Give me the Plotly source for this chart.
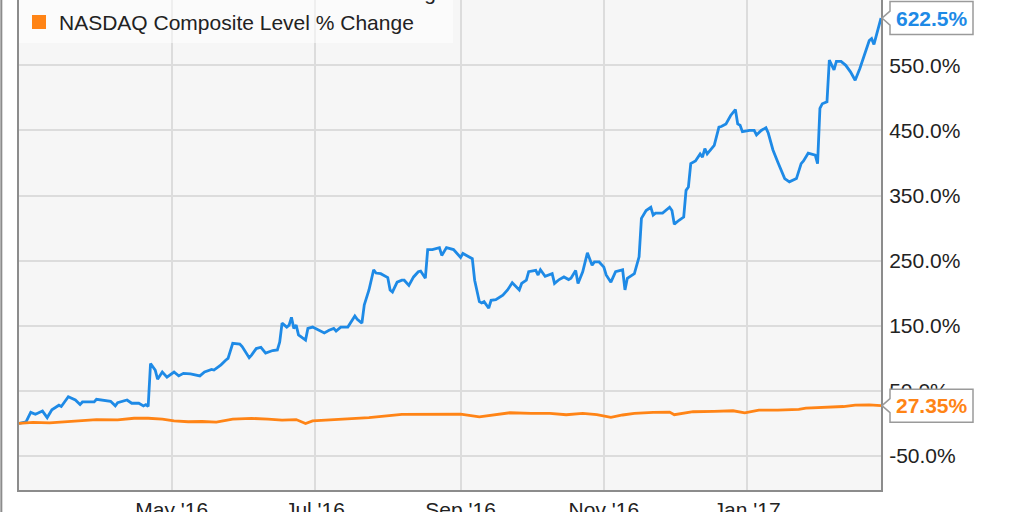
import plotly.graph_objects as go

# ---------------- data ----------------
amd_name = "Advanced Micro Devices Price % Change"
nasdaq_name = "NASDAQ Composite Level % Change"

amd_dates = [
    "2016-02-26", "2016-02-29", "2016-03-02", "2016-03-04", "2016-03-07", "2016-03-09",
    "2016-03-11", "2016-03-14", "2016-03-15", "2016-03-18", "2016-03-21", "2016-03-23",
    "2016-03-24", "2016-03-29", "2016-03-30", "2016-04-01", "2016-04-05", "2016-04-07",
    "2016-04-08", "2016-04-12", "2016-04-14", "2016-04-17", "2016-04-19", "2016-04-20",
    "2016-04-21", "2016-04-22", "2016-04-24", "2016-04-25", "2016-04-27", "2016-04-29",
    "2016-05-02", "2016-05-04", "2016-05-06", "2016-05-09", "2016-05-12", "2016-05-13",
    "2016-05-15", "2016-05-18", "2016-05-19", "2016-05-22", "2016-05-24", "2016-05-25",
    "2016-05-27", "2016-05-30", "2016-05-31", "2016-06-03", "2016-06-04", "2016-06-06",
    "2016-06-08", "2016-06-09", "2016-06-10", "2016-06-13", "2016-06-15", "2016-06-16",
    "2016-06-17", "2016-06-19", "2016-06-20", "2016-06-21", "2016-06-22", "2016-06-23",
    "2016-06-24", "2016-06-27", "2016-06-28", "2016-06-30", "2016-07-02", "2016-07-05",
    "2016-07-07", "2016-07-09", "2016-07-10", "2016-07-12", "2016-07-15", "2016-07-16",
    "2016-07-18", "2016-07-19", "2016-07-21", "2016-07-22", "2016-07-24", "2016-07-26",
    "2016-07-27", "2016-07-29", "2016-08-01", "2016-08-02", "2016-08-03", "2016-08-05",
    "2016-08-07", "2016-08-08", "2016-08-10", "2016-08-12", "2016-08-14", "2016-08-15",
    "2016-08-17", "2016-08-18", "2016-08-20", "2016-08-23", "2016-08-24", "2016-08-26",
    "2016-08-29", "2016-09-01", "2016-09-02", "2016-09-06", "2016-09-07", "2016-09-09",
    "2016-09-10", "2016-09-11", "2016-09-13", "2016-09-14", "2016-09-16", "2016-09-19",
    "2016-09-21", "2016-09-23", "2016-09-26", "2016-09-27", "2016-09-29", "2016-09-30",
    "2016-10-03", "2016-10-04", "2016-10-05", "2016-10-07", "2016-10-10", "2016-10-11",
    "2016-10-13", "2016-10-15", "2016-10-17", "2016-10-18", "2016-10-20", "2016-10-21",
    "2016-10-23", "2016-10-25", "2016-10-27", "2016-10-28", "2016-10-30", "2016-11-01",
    "2016-11-02", "2016-11-04", "2016-11-06", "2016-11-09", "2016-11-10", "2016-11-11",
    "2016-11-14", "2016-11-16", "2016-11-17", "2016-11-19", "2016-11-21", "2016-11-22",
    "2016-11-23", "2016-11-26", "2016-11-29", "2016-11-30", "2016-12-01", "2016-12-03",
    "2016-12-05", "2016-12-06", "2016-12-07", "2016-12-08", "2016-12-10", "2016-12-12",
    "2016-12-13", "2016-12-14", "2016-12-15", "2016-12-18", "2016-12-20", "2016-12-21",
    "2016-12-23", "2016-12-25", "2016-12-27", "2016-12-28", "2016-12-29", "2016-12-30",
    "2017-01-02", "2017-01-04", "2017-01-05", "2017-01-07", "2017-01-09", "2017-01-10",
    "2017-01-12", "2017-01-14", "2017-01-17", "2017-01-19", "2017-01-22", "2017-01-24",
    "2017-01-25", "2017-01-27", "2017-01-30", "2017-01-31", "2017-02-01", "2017-02-02",
    "2017-02-04", "2017-02-05", "2017-02-07", "2017-02-08", "2017-02-10", "2017-02-12",
    "2017-02-14", "2017-02-16", "2017-02-18", "2017-02-22", "2017-02-23", "2017-02-24",
    "2017-02-27",
]
amd_pct = [
    0, 2.6, 17, 14, 19, 9,
    21, 28, 26, 41, 36, 29,
    33, 33, 37, 36, 34, 27,
    32, 36, 31, 31, 27, 29,
    26, 92, 82, 68, 79, 71,
    79, 73, 77, 76, 74, 73,
    79, 83, 82, 90, 97, 100,
    123, 122, 118, 101, 105, 115,
    117, 112, 108, 112, 113, 125,
    154, 148, 151, 163, 146, 151,
    136, 128, 146, 148, 144, 139,
    143, 146, 142, 148, 148, 154,
    165, 160, 154, 182, 205, 236,
    231, 230, 224, 205, 202, 217,
    220, 220, 212, 225, 233, 234,
    223, 267, 267, 270, 258, 270,
    267, 255, 261, 253, 220, 187,
    185, 187, 177, 189, 190, 197,
    205, 216, 205, 215, 220, 233,
    235, 228, 236, 226, 230, 215,
    221, 225, 221, 223, 235, 215,
    233, 262, 243, 248, 248, 240,
    228, 217, 233, 236, 205, 223,
    230, 256, 315, 327, 332, 320,
    323, 323, 332, 327, 306, 312,
    317, 358, 363, 399, 403, 414,
    409, 422, 414, 427, 455, 456,
    460, 473, 482, 460, 458, 448,
    450, 450, 443, 450, 454, 446,
    420, 402, 376, 371, 376, 399,
    403, 415, 412, 399, 484, 491,
    494, 558, 543, 556, 556, 550,
    540, 527, 545, 588, 591, 582,
    622.5,
]

nasdaq_dates = [
    "2016-02-26", "2016-03-03", "2016-03-10", "2016-03-17", "2016-03-23", "2016-03-30",
    "2016-04-08", "2016-04-15", "2016-04-21", "2016-04-27", "2016-05-02", "2016-05-08",
    "2016-05-14", "2016-05-20", "2016-05-27", "2016-06-04", "2016-06-11", "2016-06-17",
    "2016-06-23", "2016-06-27", "2016-06-30", "2016-07-09", "2016-07-16", "2016-07-24",
    "2016-08-07", "2016-08-20", "2016-09-01", "2016-09-09", "2016-09-15", "2016-09-22",
    "2016-10-01", "2016-10-09", "2016-10-16", "2016-10-23", "2016-10-29", "2016-11-04",
    "2016-11-09", "2016-11-14", "2016-11-22", "2016-11-29", "2016-12-01", "2016-12-09",
    "2016-12-18", "2016-12-26", "2016-12-31", "2017-01-06", "2017-01-14", "2017-01-23",
    "2017-01-26", "2017-02-06", "2017-02-11", "2017-02-16", "2017-02-22", "2017-02-27",
]
nasdaq_pct = [
    0, 1.5, 1, 3, 4, 6,
    5.5, 8, 8, 6.5, 4, 2.6,
    3, 2, 6.7, 7.8, 6.7, 5,
    6, 0, 4, 6, 8, 9,
    14, 14.8, 14.4, 10, 12.5, 16.4,
    15.5, 15.5, 13.4, 15.5, 13.5, 9.4,
    13, 15.5, 17, 17.5, 13.4, 18,
    18.5, 19.5, 16.4, 20.6, 20.6, 21.6,
    23.6, 24.7, 26, 28, 28.5, 27.35,
]

x_tick_vals = ["2016-05-01", "2016-07-01", "2016-09-01", "2016-11-01", "2017-01-01"]
x_tick_text = ["May '16", "Jul '16", "Sep '16", "Nov '16", "Jan '17"]
y_tick_vals = [-50, 50, 150, 250, 350, 450, 550, 650]
y_tick_text = ["-50.0%", "50.0%", "150.0%", "250.0%", "350.0%", "450.0%", "550.0%", "650.0%"]

# ---------------- styling ----------------
BLUE = "#1e8ae6"
ORANGE = "#ff8416"
FONT = "Liberation Sans, Arial, Helvetica, sans-serif"
FS = 21

fig = go.Figure()

fig.add_trace(go.Scatter(x=amd_dates, y=amd_pct, mode="lines",
                         line=dict(color=BLUE, width=2.8), showlegend=False,
                         hoverinfo="skip"))
fig.add_trace(go.Scatter(x=nasdaq_dates, y=nasdaq_pct, mode="lines",
                         line=dict(color=ORANGE, width=2.8), showlegend=False,
                         hoverinfo="skip"))

# legend entries (square swatches)
fig.add_trace(go.Scatter(x=[None], y=[None], mode="markers", name=amd_name,
                         marker=dict(symbol="square", size=14, color=BLUE)))
fig.add_trace(go.Scatter(x=[None], y=[None], mode="markers", name=nasdaq_name,
                         marker=dict(symbol="square", size=14, color=ORANGE)))

# callouts for the last values (anchored at the plot's right edge, where the series end)
callout_path = "M 1 0 L 9 7 L 9 16.5 L 92 16.5 L 92 -16.5 L 9 -16.5 L 9 -7 Z"
for dates, vals, col in [(amd_dates, amd_pct, BLUE), (nasdaq_dates, nasdaq_pct, ORANGE)]:
    last_x, last_y = dates[-1], vals[-1]
    fig.add_shape(type="path", xref="paper", yref="y", xsizemode="pixel", ysizemode="pixel",
                  xanchor=1, yanchor=last_y, path=callout_path,
                  fillcolor="white", line=dict(color="#9a9a9a", width=1.5), layer="above")
    txt = f"{last_y:.1f}%" if abs(last_y * 10 - round(last_y * 10)) < 1e-9 else f"{last_y:.2f}%"
    fig.add_annotation(x=1, y=last_y, xref="paper", yref="y", text=f"<b>{txt}</b>",
                       showarrow=False, xanchor="center", yanchor="middle", xshift=51,
                       font=dict(family=FONT, size=FS, color=col))

# outer frame line at far left
fig.add_shape(type="line", xref="paper", yref="paper", x0=-0.0205, x1=-0.0205, y0=-0.1, y1=1.1,
              line=dict(color="#8c8c8c", width=2), layer="above")

fig.update_layout(
    width=1024, height=512,
    margin=dict(l=19, r=143, t=0, b=22, autoexpand=False),
    paper_bgcolor="white",
    plot_bgcolor="#f6f6f6",
    font=dict(family=FONT, size=FS, color="#222222"),
    showlegend=True,
    legend=dict(x=0, y=1.058, xanchor="left", yanchor="top",
                bgcolor="rgba(255,255,255,0.55)", borderwidth=0,
                font=dict(family=FONT, size=FS, color="#222222"),
                tracegroupgap=0, itemclick=False),
    xaxis=dict(
        type="date",
        range=["2016-02-26", "2017-02-27"],
        tickvals=x_tick_vals, ticktext=x_tick_text,
        showgrid=True, gridcolor="#dcdcdc", gridwidth=2,
        showline=True, linecolor="#8c8c8c", linewidth=2, mirror=False,
        ticks="", ticklabelstandoff=0, automargin=False, zeroline=False,
        tickfont=dict(family=FONT, size=FS, color="#222222"),
    ),
    yaxis=dict(
        side="right",
        range=[-102.2, 650.3],
        tickvals=y_tick_vals, ticktext=y_tick_text,
        showgrid=True, gridcolor="#dcdcdc", gridwidth=2,
        showline=True, linecolor="#8c8c8c", linewidth=2, mirror=True,
        ticks="", ticklabelstandoff=2, automargin=False, zeroline=False,
        tickfont=dict(family=FONT, size=FS, color="#222222"),
    ),
)

fig.write_html("out.html", config={"displayModeBar": False},
               post_script="document.body.style.margin='0px';")
